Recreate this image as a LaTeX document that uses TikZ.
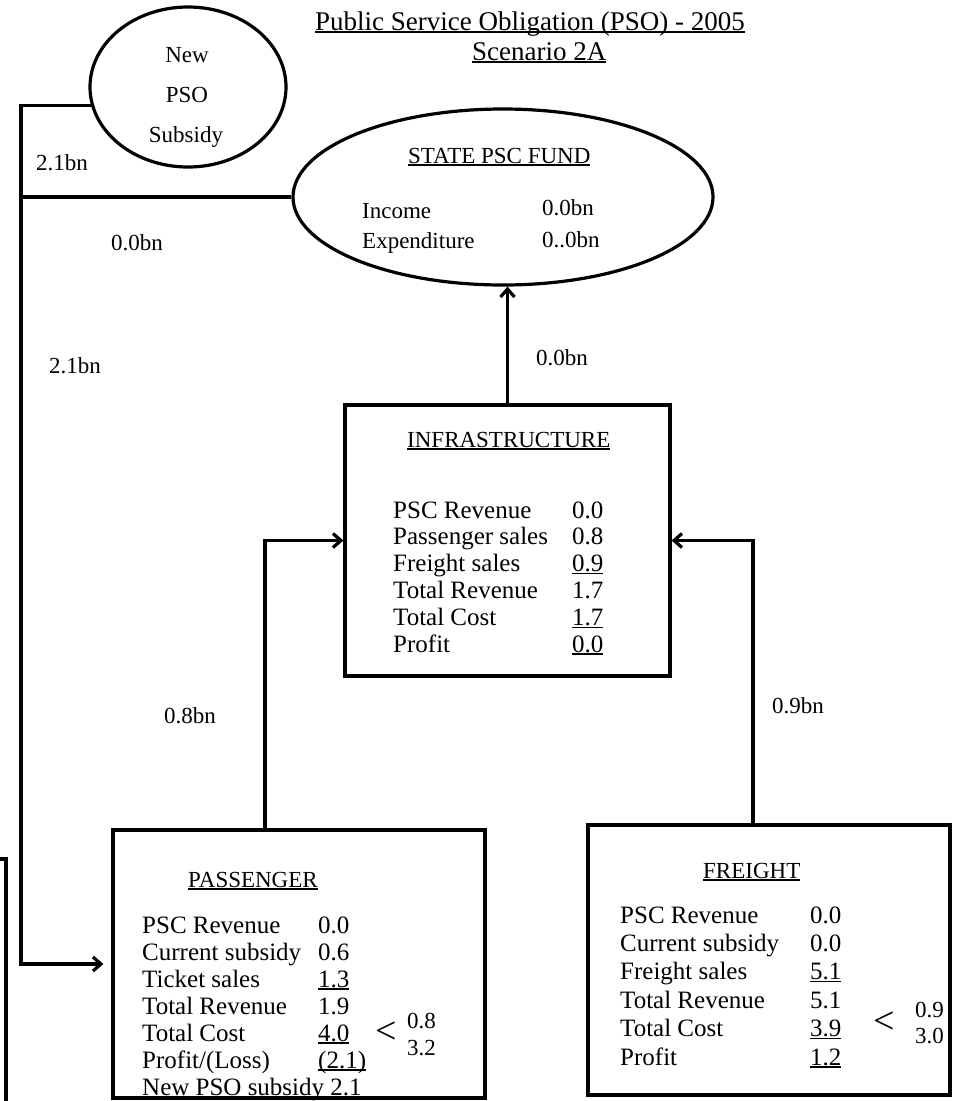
\documentclass[tikz,border=0pt]{standalone}
\usepackage{fontspec}
\setmainfont{Liberation Serif}
\usetikzlibrary{arrows.meta,shapes.geometric}
\newcommand\fsz[2]{\fontsize{#1}{#2}\selectfont}
\newcommand\ulx[1]{\setbox0\hbox{#1}\rlap{\rule[-2.6pt]{\wd0}{1.3pt}}\box0}
\tikzset{
  box/.style={draw, rectangle, line width=3.2pt, inner sep=0pt},
  oval/.style={draw, ellipse, line width=3.2pt, inner sep=0pt},
  txt/.style={inner sep=0pt, anchor=base west},
  lbl/.style={inner sep=0pt, anchor=base, font=\fsz{23}{23}},
  conn/.style={line width=3.2pt},
  arr/.style={conn, -{Straight Barb[length=8pt,width=14pt]}}
}
\begin{document}
\begin{tikzpicture}[x=1pt,y=-1pt]
\useasboundingbox (0,0) rectangle (958,1101);
% shapes
\node[oval, minimum width=196pt, minimum height=160pt] (newpso) at (188,87) {};
\node[oval, minimum width=420pt, minimum height=176pt] (state) at (503,197) {};
\node[box, minimum width=325pt, minimum height=271pt] (infra) at (507.5,540.5) {};
\node[box, minimum width=372pt, minimum height=268pt] (pass) at (299,964) {};
\node[box, minimum width=362pt, minimum height=270pt] (frt) at (769,960) {};
\coordinate (lft) at (21,0);
% title
\node[txt, font=\fsz{27}{27}] (title) at (315,30) {\ulx{Public Service Obligation (PSO) - 2005}};
\node[txt, font=\fsz{27}{27}] (scen) at (472,60) {\ulx{Scenario 2A}};
% new PSO subsidy
\node[lbl] (np1) at (187,62) {New};
\node[lbl] (np2) at (187,102) {PSO};
\node[lbl] (np3) at (186,142) {Subsidy};
% state fund
\node[txt, font=\fsz{23}{23}] (sth) at (408,163) {\ulx{STATE PSC FUND}};
\node[txt, font=\fsz{23}{23}] (st1) at (362,218) {Income};
\node[txt, font=\fsz{23}{23}] (st2) at (362,248) {Expenditure};
\node[txt, font=\fsz{23}{23}] (st3) at (542,215) {0.0bn};
\node[txt, font=\fsz{23}{23}] (st4) at (542,247) {0..0bn};
% infrastructure
\node[txt, font=\fsz{23}{23}] (inh) at (407,447) {\ulx{INFRASTRUCTURE}};
\node[txt, font=\fsz{25}{26.8}] (inr) at (393,518) {%
\begin{tabular}[t]{@{}p{179pt}@{}l@{}}
PSC Revenue & 0.0\\
Passenger sales & 0.8\\
Freight sales & \ulx{0.9}\\
Total Revenue & 1.7\\
Total Cost & \ulx{1.7}\\
Profit & \ulx{0.0}
\end{tabular}};
% passenger
\node[txt, font=\fsz{23}{23}] (pah) at (188,887) {\ulx{PASSENGER}};
\node[txt, font=\fsz{25}{27}] (par) at (142,933) {%
\begin{tabular}[t]{@{}p{176pt}@{}l@{}}
PSC Revenue & 0.0\\
Current subsidy & 0.6\\
Ticket sales & \ulx{1.3}\\
Total Revenue & 1.9\\
Total Cost & \ulx{4.0}\\
Profit/(Loss) & \ulx{(2.1)}\\
\multicolumn{2}{@{}l@{}}{New PSO subsidy 2.1}
\end{tabular}};
\node[inner sep=0pt, font=\fsz{38}{38}] (plt) at (386,1033) {<};
\node[txt, font=\fsz{23}{23}] (pa1) at (407,1028) {0.8};
\node[txt, font=\fsz{23}{23}] (pa2) at (407,1055) {3.2};
% freight
\node[txt, font=\fsz{23}{23}] (frh) at (703,878) {\ulx{FREIGHT}};
\node[txt, font=\fsz{25}{28.4}] (frr) at (620,923) {%
\begin{tabular}[t]{@{}p{190pt}@{}l@{}}
PSC Revenue & 0.0\\
Current subsidy & 0.0\\
Freight sales & \ulx{5.1}\\
Total Revenue & 5.1\\
Total Cost & \ulx{3.9}\\
Profit & \ulx{1.2}
\end{tabular}};
\node[inner sep=0pt, font=\fsz{38}{38}] (flt) at (884,1023) {<};
\node[txt, font=\fsz{23}{23}] (fr1) at (915,1017) {0.9};
\node[txt, font=\fsz{23}{23}] (fr2) at (915,1043) {3.0};
% connectors
\draw[arr, shorten >=8pt] (newpso.191) -| (lft |- pass.west) -- (pass.west);
\draw[conn] (state.west) -- (state.west -| lft);
\draw[arr] (infra.north) -- (infra.north |- state.south);
\draw[arr] ([xshift=-34pt]pass.north) |- (infra.west);
\draw[arr] ([xshift=-16pt]frt.north) |- (infra.east);
% connector labels
\node[lbl] (l1) at (62,170) {2.1bn};
\node[lbl] (l2) at (137,250) {0.0bn};
\node[lbl] (l3) at (75,373) {2.1bn};
\node[lbl] (l4) at (562,365) {0.0bn};
\node[lbl] (l5) at (190,723) {0.8bn};
\node[lbl] (l6) at (798,713) {0.9bn};
% stray edge line at the left margin
\draw[conn] (0,859) -- (6,859) -- (6,1101);
\end{tikzpicture}
\end{document}
